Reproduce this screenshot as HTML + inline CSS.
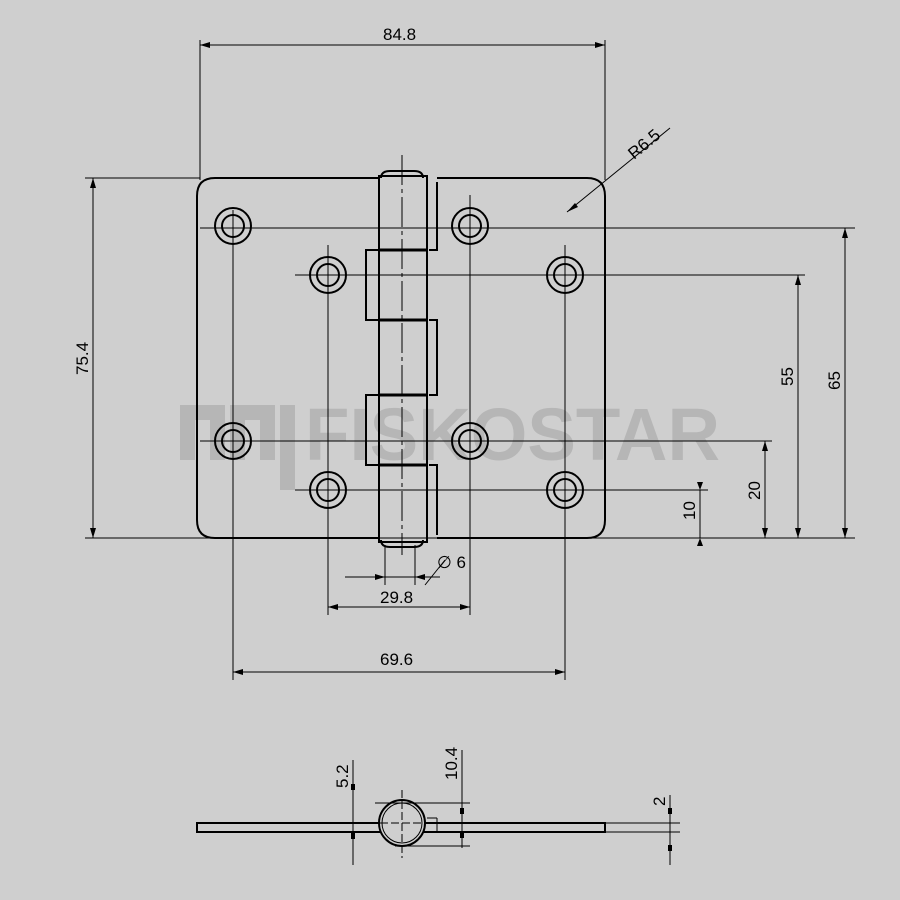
<!DOCTYPE html>
<html><head><style>body{margin:0;background:#cfcfcf}svg{display:block}</style></head><body>
<svg width="900" height="900" viewBox="0 0 900 900" xmlns="http://www.w3.org/2000/svg" font-family="Liberation Sans Narrow, Liberation Sans, sans-serif">
<rect width="900" height="900" fill="#cfcfcf"/>
<!-- watermark -->
<g fill="#b6b6b6">
<path d="M180 405h45v55h-15v-40h-15v40h-15z"/>
<path d="M230 405h45v55h-15v-40h-15v40h-15z"/>
<rect x="280" y="405" width="15" height="85"/>
<text x="305" y="460" font-size="74" font-weight="bold" font-family="Liberation Sans, sans-serif" textLength="415" lengthAdjust="spacingAndGlyphs">FISKOSTAR</text>
</g>
<g stroke="#000" fill="none" stroke-width="1">
<line x1="200" y1="40" x2="200" y2="180"/><line x1="605" y1="40" x2="605" y2="180"/>
<line x1="200" y1="45" x2="605" y2="45"/>
<line x1="85" y1="178" x2="200" y2="178"/><line x1="85" y1="538" x2="855" y2="538"/>
<line x1="93" y1="178" x2="93" y2="538"/>
<line x1="200" y1="228" x2="855" y2="228"/><line x1="845" y1="228" x2="845" y2="538"/>
<line x1="295" y1="275" x2="805" y2="275"/><line x1="798" y1="275" x2="798" y2="538"/>
<line x1="200" y1="441" x2="772" y2="441"/><line x1="765" y1="441" x2="765" y2="538"/>
<line x1="295" y1="490" x2="708" y2="490"/><line x1="700" y1="490" x2="700" y2="538"/>
<line x1="233" y1="210" x2="233" y2="680"/><line x1="565" y1="245" x2="565" y2="680"/>
<line x1="328" y1="245" x2="328" y2="615"/><line x1="470" y1="195" x2="470" y2="615"/>
<line x1="233" y1="672" x2="565" y2="672"/><line x1="328" y1="607" x2="470" y2="607"/>
<line x1="385" y1="545" x2="385" y2="585"/><line x1="415" y1="545" x2="415" y2="585"/>
<line x1="345" y1="577" x2="440" y2="577"/>
<line x1="425" y1="585" x2="445" y2="560"/>
<line x1="567" y1="212" x2="670" y2="128"/>
<line x1="402" y1="155" x2="402" y2="555" stroke-dasharray="30,4,4,4"/>
<path d="M379 178H215Q197 178 197 196V520Q197 538 215 538H379" stroke-width="2"/>
<path d="M437 178H587Q605 178 605 196V520Q605 538 587 538H437" stroke-width="2"/>
<path d="M437 182V250H429M429 320H437V395H429M429 465H437V535" stroke-width="2"/>
<path d="M379 250H366V320H379M379 395H366V465H379" stroke-width="2"/>
<rect x="379" y="176" width="48" height="366" stroke-width="2"/>
<path d="M381 178Q381 171 390 171H414Q423 171 423 178M381 540Q381 547 390 547H414Q423 547 423 540" stroke-width="2"/>
<line x1="379" y1="250" x2="427" y2="250" stroke-width="3"/><line x1="379" y1="320" x2="427" y2="320" stroke-width="3"/>
<line x1="379" y1="395" x2="427" y2="395" stroke-width="3"/><line x1="379" y1="465" x2="427" y2="465" stroke-width="3"/>
<g stroke-width="2">
<circle cx="233" cy="226" r="18"/><circle cx="233" cy="226" r="11"/>
<circle cx="233" cy="441" r="18"/><circle cx="233" cy="441" r="11"/>
<circle cx="470" cy="226" r="18"/><circle cx="470" cy="226" r="11"/>
<circle cx="470" cy="441" r="18"/><circle cx="470" cy="441" r="11"/>
<circle cx="328" cy="275" r="18"/><circle cx="328" cy="275" r="11"/>
<circle cx="328" cy="490" r="18"/><circle cx="328" cy="490" r="11"/>
<circle cx="565" cy="275" r="18"/><circle cx="565" cy="275" r="11"/>
<circle cx="565" cy="490" r="18"/><circle cx="565" cy="490" r="11"/>
</g>
<!-- side view -->
<rect x="197" y="823" width="408" height="9" stroke-width="2"/>
<circle cx="402" cy="823" r="23" stroke-width="2" fill="#cfcfcf"/><circle cx="402" cy="823" r="20"/>
<line x1="427" y1="818" x2="437" y2="818"/><line x1="437" y1="818" x2="437" y2="832"/>
<line x1="375" y1="803" x2="470" y2="803"/><line x1="395" y1="846" x2="470" y2="846"/>
<line x1="402" y1="790" x2="402" y2="858" stroke-dasharray="8,3"/>
<line x1="380" y1="823" x2="424" y2="823" stroke-dasharray="8,3"/>
<line x1="353" y1="760" x2="353" y2="865"/><line x1="462" y1="750" x2="462" y2="848"/>
<line x1="605" y1="823" x2="680" y2="823"/><line x1="605" y1="832" x2="680" y2="832"/>
<line x1="670" y1="795" x2="670" y2="865"/>
</g>
<g fill="#000">
<path d="M200 45l10-3v6zM605 45l-10-3v6zM93 178l-3 10h6zM93 538l-3-10h6zM845 228l-3 10h6zM845 538l-3-10h6zM798 275l-3 10h6zM798 538l-3-10h6zM765 441l-3 10h6zM765 538l-3-10h6zM700 490l-3-8h6zM700 538l-3 8h6zM233 672l10-3v6zM565 672l-10-3v6zM328 607l10-3v6zM470 607l-10-3v6zM385 577l-10-3v6zM415 577l10-3v6z"/>
<path d="M567 212l8-9 3 4z"/>
<rect x="351" y="784" width="4" height="6"/><rect x="351" y="833" width="4" height="6"/>
<rect x="460" y="808" width="4" height="6"/><rect x="460" y="832" width="4" height="6"/>
<rect x="668" y="808" width="4" height="6"/><rect x="668" y="845" width="4" height="6"/>
</g>
<g font-size="17" fill="#000">
<text x="383" y="40">84.8</text>
<text x="380" y="603">29.8</text>
<text x="380" y="665">69.6</text>
<text x="437" y="568">∅ 6</text>
<text transform="translate(88,375) rotate(-90)">75.4</text>
<text transform="translate(793,386) rotate(-90)">55</text>
<text transform="translate(840,390) rotate(-90)">65</text>
<text transform="translate(760,500) rotate(-90)">20</text>
<text transform="translate(695,520) rotate(-90)">10</text>
<text transform="translate(634,160) rotate(-40)">R6.5</text>
<text transform="translate(348,788) rotate(-90)">5.2</text>
<text transform="translate(457,780) rotate(-90)">10.4</text>
<text transform="translate(665,806) rotate(-90)">2</text>
</g>
</svg>
</body></html>
